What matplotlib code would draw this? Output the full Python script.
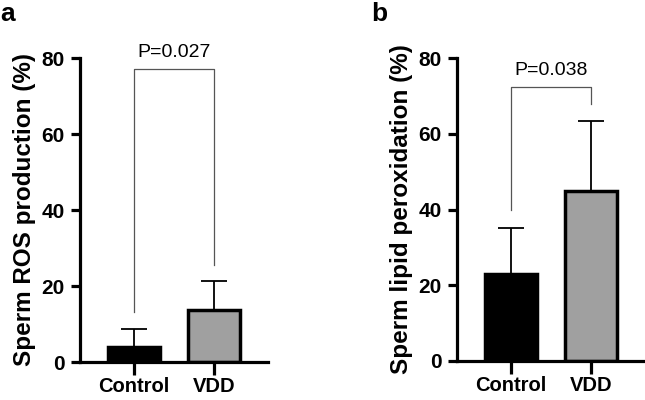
import matplotlib.pyplot as plt

# ==========================
# DATA
# ==========================
groups = ["Control", "VDD"]

ros_mean = [4.0, 13.7]
ros_sd = [4.7, 7.6]
ros_p = "P=0.027"
ros_bracket = [77.0, 13.2, 25.5]   # top, left leg end, right leg end

lipid_mean = [23.0, 44.9]
lipid_sd = [12.1, 18.5]
lipid_p = "P=0.038"
lipid_bracket = [72.3, 39.8, 67.8]

bar_colors = ["black", "#a0a0a0"]

# ==========================
# STYLE
# ==========================
plt.rcParams.update({
    "font.family": ["Liberation Sans", "DejaVu Sans"],
    "font.size": 15,
    "axes.linewidth": 2.3,
})

fig = plt.figure(figsize=(6.45, 4.0), dpi=100)
ax_a = fig.add_axes([0.124, 0.095, 0.2915, 0.76])
ax_b = fig.add_axes([0.7085, 0.0975, 0.2915, 0.7575])


def draw_panel(ax, means, sds, ylabel, ptext, bracket):
    x = [0, 1]
    ax.bar(x, means, width=0.66, color=bar_colors, edgecolor="black",
           linewidth=2.5, zorder=2)
    ax.errorbar(x, means, yerr=[[0, 0], sds], fmt="none", ecolor="black",
                elinewidth=1.3, capsize=9.5, capthick=1.3, zorder=1)

    top, left_end, right_end = bracket
    ax.plot([0, 0, 1, 1], [left_end, top, top, right_end],
            color="#555555", linewidth=0.9, zorder=3)
    ax.text(0.5, top + 3.2, ptext, ha="center", va="baseline", fontsize=14)

    ax.set_xlim(-0.675, 1.675)
    ax.set_ylim(0, 80)
    ax.set_yticks([0, 20, 40, 60, 80])
    ax.set_xticks(x)
    ax.set_xticklabels(groups, fontweight="bold", fontsize=14.5)
    for lbl in ax.get_yticklabels():
        lbl.set_fontweight("bold")
    ax.tick_params(axis="y", length=6.5, width=2.3, pad=4.5)
    ax.tick_params(axis="x", length=9, width=2.3, pad=2)
    ax.spines["top"].set_visible(False)
    ax.spines["right"].set_visible(False)
    ax.set_ylabel(ylabel, fontweight="bold", fontsize=17.5, labelpad=4)


draw_panel(ax_a, ros_mean, ros_sd, "Sperm ROS production (%)", ros_p, ros_bracket)
draw_panel(ax_b, lipid_mean, lipid_sd, "Sperm lipid peroxidation (%)", lipid_p, lipid_bracket)

fig.text(0.0, 0.995, "a", fontsize=19, fontweight="bold", va="top")
fig.text(0.575, 0.995, "b", fontsize=19, fontweight="bold", va="top")

fig.savefig("out.png", dpi=100)
